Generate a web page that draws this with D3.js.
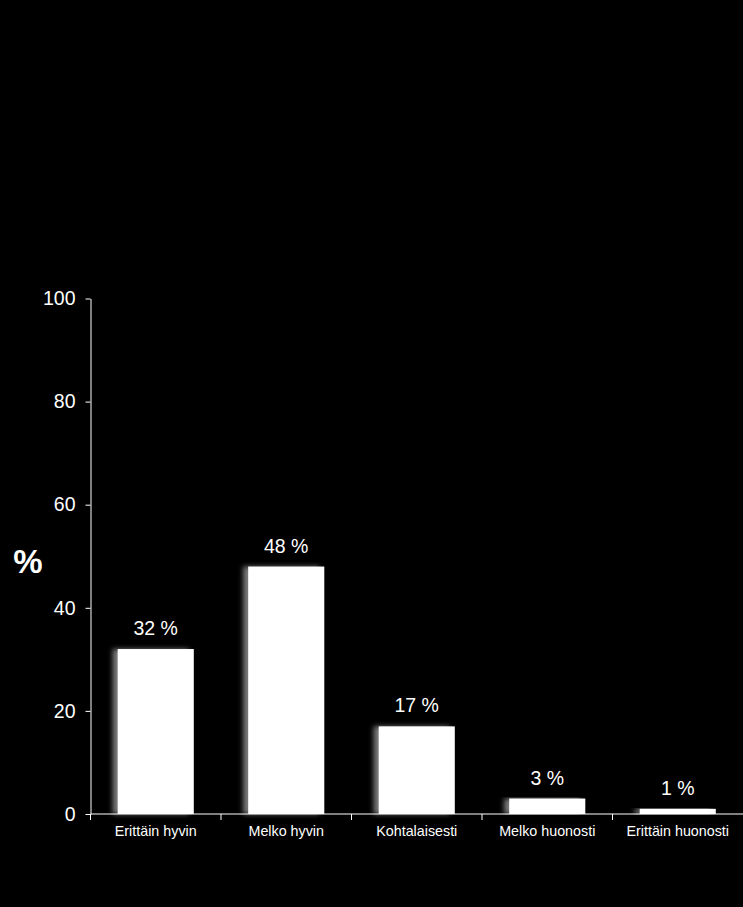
<!DOCTYPE html>
<html>
<head>
<meta charset="utf-8">
<script src="https://cdn.jsdelivr.net/npm/d3@7"></script>
<style>
  html, body { margin: 0; padding: 0; background: #000; }
  svg { display: block; font-family: "Liberation Sans", Arial, sans-serif; }
</style>
</head>
<body>
<div id="chart"></div>
<script>
const categories = ["Erittäin hyvin", "Melko hyvin", "Kohtalaisesti", "Melko huonosti", "Erittäin huonosti"];
const values = [32, 48, 17, 3, 1];
const yTicks = [0, 20, 40, 60, 80, 100];

const width = 743,
    height = 907,
    margin = ({ top: 298.5, right: 0, bottom: 93, left: 90.5 }); // dimensions

const svg = d3.select("#chart")
    .append("svg")
    .attr("width", width)
    .attr("height", height);

svg.append("rect") // black background
    .attr("width", width)
    .attr("height", height)
    .attr("fill", "#000");

// soft shadow on the left edge of each bar
const filter = svg.append("defs").append("filter")
    .attr("id", "shadow")
    .attr("x", "-30%").attr("y", "-5%")
    .attr("width", "160%").attr("height", "110%");
filter.append("feDropShadow")
    .attr("dx", -5).attr("dy", 0)
    .attr("stdDeviation", 2.5)
    .attr("flood-color", "#9a9a9a")
    .attr("flood-opacity", 0.8);

const data = categories.map((c, i) => ({ cat: c, val: values[i] }));

const x = d3.scaleBand()
    .domain(categories)
    .range([margin.left, width - margin.right])
    .paddingInner(0.417)
    .paddingOuter(0.2085);

const y = d3.scaleLinear()
    .domain([0, 100])
    .range([height - margin.bottom, margin.top]);

// bars
svg.append("g")
    .selectAll("rect")
    .data(data)
    .join("rect")
    .attr("x", d => x(d.cat))
    .attr("y", d => y(d.val))
    .attr("width", x.bandwidth())
    .attr("height", d => y(0) - y(d.val))
    .attr("fill", "#fff")
    .attr("filter", "url(#shadow)");

// y axis
const yAxis = svg.append("g")
    .attr("transform", `translate(${margin.left},0)`)
    .call(d3.axisLeft(y).tickValues(yTicks).tickSize(5).tickPadding(10).tickSizeOuter(0));
yAxis.selectAll("text").attr("fill", "#fff").attr("font-size", 19.5).attr("font-family", "Liberation Sans, Arial, sans-serif");
yAxis.selectAll("line, path").attr("stroke", "#fff");

// x axis: ticks at category boundaries (none at the right end)
const boundaries = d3.range(categories.length).map(i => margin.left + i * x.step());
const xAxis = svg.append("g")
    .attr("transform", `translate(0,${height - margin.bottom})`);
xAxis.append("line")
    .attr("x1", margin.left).attr("x2", width)
    .attr("stroke", "#fff");
xAxis.selectAll(".bt")
    .data(boundaries)
    .join("line")
    .attr("class", "bt")
    .attr("x1", d => d).attr("x2", d => d)
    .attr("y1", 0).attr("y2", 6)
    .attr("stroke", "#fff");
xAxis.selectAll(".cl")
    .data(categories)
    .join("text")
    .attr("class", "cl")
    .attr("x", d => x(d) + x.bandwidth() / 2)
    .attr("y", 22)
    .attr("text-anchor", "middle")
    .attr("fill", "#fff")
    .attr("font-size", 14.3)
    .text(d => d);

// value labels
svg.append("g")
    .selectAll("text")
    .data(data)
    .join("text")
    .attr("x", d => x(d.cat) + x.bandwidth() / 2)
    .attr("y", d => y(d.val) - 14)
    .attr("text-anchor", "middle")
    .attr("fill", "#fff")
    .attr("font-size", 19.5)
    .text(d => d.val + " %");

// y axis title
svg.append("text")
    .attr("x", 28)
    .attr("y", 573)
    .attr("text-anchor", "middle")
    .attr("fill", "#fff")
    .attr("font-size", 33)
    .attr("font-weight", "bold")
    .text("%");
</script>
</body>
</html>
